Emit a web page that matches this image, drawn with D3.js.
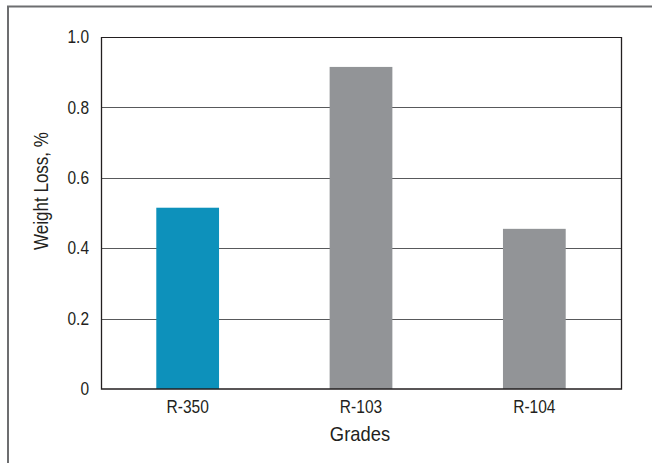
<!DOCTYPE html>
<html><head><meta charset="utf-8">
<script src="https://cdn.jsdelivr.net/npm/d3@7"></script>
<style>
html,body{margin:0;padding:0;background:#fff;}
svg{display:block;}
text{font-family:"Liberation Sans Narrow","Arial Narrow","Liberation Sans",sans-serif;fill:#231f20;}
</style></head>
<body>
<script>
const categories = ["R-350", "R-103", "R-104"];
const values = [0.515, 0.915, 0.455];
const barColors = ["#0d91bb", "#929497", "#929497"];
const yTicks = [0, 0.2, 0.4, 0.6, 0.8, 1.0];
const yTickLabels = ["0", "0.2", "0.4", "0.6", "0.8", "1.0"];
const yTitle = "Weight Loss, %";
const xTitle = "Grades";

const W = 652, H = 463;
const m = {left: 101, right: 31, top: 37, bottom: 74};
const svg = d3.select("body").append("svg").attr("width", W).attr("height", H);

// outer frame (top and left only visible)
svg.append("path").attr("d", `M8,463 L8,6.5 L652,6.5`).attr("fill", "none")
  .attr("stroke", "#6d6e70").attr("stroke-width", 2);

const x = d3.scaleBand().domain(categories).range([m.left, W - m.right]).padding(0);
const y = d3.scaleLinear().domain([0, 1]).range([H - m.bottom, m.top]);

// gridlines
svg.append("g").selectAll("line").data(yTicks.filter(d => d > 0)).join("line")
  .attr("x1", m.left).attr("x2", W - m.right)
  .attr("y1", d => Math.round(y(d)) + 0.5).attr("y2", d => Math.round(y(d)) + 0.5)
  .attr("stroke", "#58595b").attr("stroke-width", 1);

// bars
const bw = x.bandwidth() * 0.362;
svg.append("g").selectAll("rect").data(categories).join("rect")
  .attr("x", d => x(d) + x.bandwidth() / 2 - bw / 2)
  .attr("width", bw)
  .attr("y", (d, i) => y(values[i]))
  .attr("height", (d, i) => y(0) - y(values[i]))
  .attr("fill", (d, i) => barColors[i]);

// frame of plot: left, bottom, right
svg.append("path")
  .attr("d", `M${m.left + 0.5},${m.top} L${m.left + 0.5},${y(0)} L${W - m.right + 0.5},${y(0)} L${W - m.right + 0.5},${m.top}`)
  .attr("fill", "none").attr("stroke", "#231f20").attr("stroke-width", 1.3);
svg.append("line").attr("x1", m.left).attr("x2", W - m.right)
  .attr("y1", m.top + 0.5).attr("y2", m.top + 0.5).attr("stroke", "#231f20").attr("stroke-width", 1);

// y axis labels (condensed look via horizontal scaling)
const yAxis = d3.axisLeft(y).tickValues(yTicks).tickSize(0).tickPadding(0)
  .tickFormat((d, i) => yTickLabels[i]);
const gy = svg.append("g").attr("transform", `translate(${m.left - 12},0)`).call(yAxis);
gy.select(".domain").remove();
gy.selectAll("text").attr("x", 0).attr("font-size", 18).attr("fill", "#231f20")
  .attr("transform", "scale(0.86,1)");

// x axis labels
const xAxis = d3.axisBottom(x).tickSize(0).tickPadding(11);
const gx = svg.append("g").attr("transform", `translate(0,${y(0)})`).call(xAxis);
gx.select(".domain").remove();
gx.selectAll("text").attr("font-size", 18.5).attr("fill", "#231f20")
  .attr("transform", "scale(0.84,1)");

// titles
svg.append("text").attr("transform", "translate(48,191) rotate(-90) scale(0.83,1)")
  .attr("text-anchor", "middle").attr("font-size", 20.5).text(yTitle);
svg.append("text").attr("transform", "translate(360,441) scale(0.92,1)")
  .attr("text-anchor", "middle").attr("font-size", 20).text(xTitle);
</script>
</body></html>
